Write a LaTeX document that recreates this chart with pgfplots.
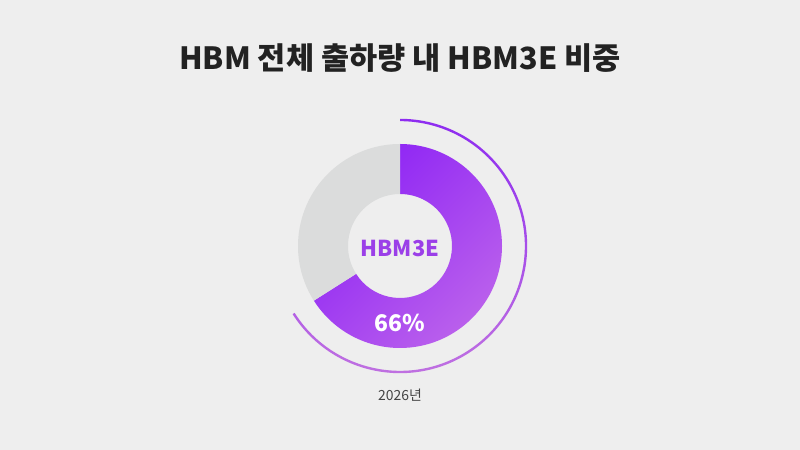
\documentclass[border=0pt]{standalone}
\usepackage{pgfplots}
\pgfplotsset{compat=1.18}
\usepackage{pgfplotstable}
\usepackage{fontspec}
\setmainfont{Noto Sans CJK KR}

\definecolor{bg}{HTML}{EEEEEE}
\definecolor{hbmA}{HTML}{8C22F5}
\definecolor{hbmB}{HTML}{BA60EC}
\definecolor{restc}{HTML}{DBDCDC}
\definecolor{arcA}{HTML}{8E2CF0}
\definecolor{arcB}{HTML}{C274E0}
\definecolor{titlec}{HTML}{222222}
\definecolor{hbmtxt}{HTML}{9B3FE8}
\definecolor{yearc}{HTML}{444444}

% share of HBM3E in total HBM shipments, 2026
\pgfplotstableread{
segment share
HBM3E   66
Others  34
}\sharetable

\begin{document}
\begin{tikzpicture}
\pgfplotstablegetelem{0}{share}\of\sharetable
\edef\sharepct{\pgfplotsretval}
\pgfmathsetmacro{\splitang}{90-3.6*\sharepct}
\begin{axis}[
    width=800bp, height=450bp,
    scale only axis,
    xmin=0, xmax=800, ymin=0, ymax=450,
    hide axis,
    clip=false,
    ]
\fill[bg] (axis cs:0,0) rectangle (axis cs:800,450);

% HBM3E segment
\path[top color=hbmA, bottom color=hbmB, shading angle=45]
  ([shift={(90:102bp)}]axis cs:400,204)
  arc[start angle=90, end angle=\splitang, radius=102bp]
  -- ([shift={(\splitang:52bp)}]axis cs:400,204)
  arc[start angle=\splitang, end angle=90, radius=52bp] -- cycle;

% remaining share
\fill[restc]
  ([shift={(\splitang:102bp)}]axis cs:400,204)
  arc[start angle=\splitang, end angle=-270, radius=102bp]
  -- ([shift={(90:52bp)}]axis cs:400,204)
  arc[start angle=-270, end angle=\splitang, radius=52bp] -- cycle;

% outer arc
\path[top color=arcA, bottom color=arcB]
  ([shift={(90:127.2bp)}]axis cs:400,204)
  arc[start angle=90, end angle=\splitang, radius=127.2bp]
  -- ([shift={(\splitang:124.8bp)}]axis cs:400,204)
  arc[start angle=\splitang, end angle=90, radius=124.8bp] -- cycle;

\node[font=\bfseries\fontsize{30.7}{36}\selectfont, text=titlec]
  at (axis cs:400,392) {HBM 전체 출하량 내 HBM3E 비중};
\node[font=\bfseries\fontsize{22}{26}\selectfont, text=hbmtxt]
  at (axis cs:400,202) {HBM3E};
\node[font=\bfseries\fontsize{23}{27}\selectfont, text=white]
  at (axis cs:400,127) {\sharepct\%};
\node[font=\fontsize{14}{16}\selectfont, text=yearc]
  at (axis cs:400,55) {2026년};
\end{axis}
\end{tikzpicture}
\end{document}
